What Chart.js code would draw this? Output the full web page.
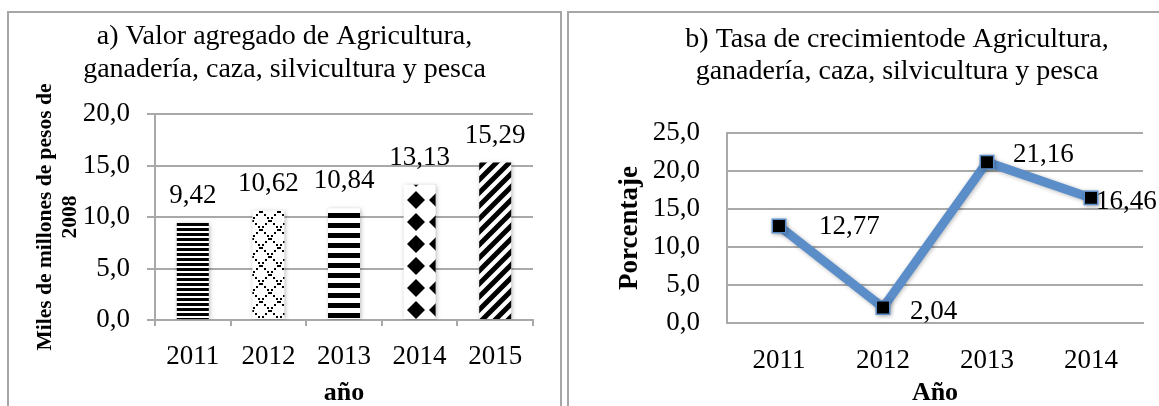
<!DOCTYPE html>
<html>
<head>
<meta charset="utf-8">
<script src="https://cdn.jsdelivr.net/npm/chart.js@4.4.1/dist/chart.umd.min.js"></script>
<style>
  html, body { margin: 0; padding: 0; background: #fff; }
  body { width: 1159px; height: 406px; overflow: hidden; position: relative; }
  .panel { position: absolute; top: 11px; height: 420px; border: 2px solid #a6a6a6; overflow: hidden; background: #fff; }
  #panelA { left: 7px; width: 551px; }
  #panelB { left: 567px; width: 700px; }
  canvas { position: absolute; left: 0; top: 0; }
</style>
</head>
<body>
<div class="panel" id="panelA"><canvas id="chartA" width="551" height="393"></canvas></div>
<div class="panel" id="panelB"><canvas id="chartB" width="656" height="393"></canvas></div>
<script>
// ---- data ----
const years = ["2011", "2012", "2013", "2014", "2015"];
const valorAgregado = [9.42, 10.62, 10.84, 13.13, 15.29];

const yearsTasa = ["2011", "2012", "2013", "2014"];
const tasaCrecimiento = [12.77, 2.04, 21.16, 16.46];

const titleA = ["a) Valor agregado de Agricultura,", "ganadería, caza, silvicultura y pesca"];
const titleB = ["b) Tasa de crecimientode Agricultura,", "ganadería, caza, silvicultura y pesca"];
const yTitleA = ["Miles de millones de pesos de", "2008"];

const gridColor = "#a9a9a9";
const lineBlue = "#5b8ec9";

Chart.defaults.font.family = '"Liberation Serif", "Times New Roman", serif';
Chart.defaults.color = "#000";

const fmt = v => v.toFixed(1).replace(".", ",");
const fmtVal = v => String(v).replace(".", ",");

/* ============================
   BAR PATTERNS (black / white)
============================ */
function makePattern(w, h, draw) {
    const c = document.createElement("canvas");
    c.width = w; c.height = h;
    const g = c.getContext("2d");
    g.fillStyle = "#fff";
    g.fillRect(0, 0, w, h);
    g.fillStyle = "#000";
    g.strokeStyle = "#000";
    draw(g, w, h);
    return g.createPattern(c, "repeat");
}

const patterns = [
    // narrow horizontal
    makePattern(4, 5, g => g.fillRect(0, 0, 4, 3)),
    // dotted lattice
    makePattern(18, 18, g => {
        for (let i = 0; i < 18; i += 3) {
            g.fillRect(i, i, 2, 2);
            g.fillRect(16 - i, i, 2, 2);
        }
    }),
    // wide horizontal
    makePattern(4, 10, g => g.fillRect(0, 0, 4, 5)),
    // solid diamonds
    makePattern(22, 22, g => {
        g.beginPath();
        g.moveTo(11, 2); g.lineTo(20, 11); g.lineTo(11, 20); g.lineTo(2, 11);
        g.closePath();
        g.fill();
    }),
    // wide upward diagonal
    makePattern(13, 13, g => {
        g.lineWidth = 5;
        g.beginPath();
        g.moveTo(-6.5, 6.5); g.lineTo(6.5, -6.5);
        g.moveTo(0, 13); g.lineTo(13, 0);
        g.moveTo(6.5, 19.5); g.lineTo(19.5, 6.5);
        g.stroke();
    })
];

/* ============================
   SHADOW + VALUE LABELS
============================ */
const valueLabels = {
    id: "valueLabels",
    beforeDatasetsDraw(chart) {
        const ctx = chart.ctx;
        ctx.save();
        ctx.shadowColor = "rgba(0,0,0,0.28)";
        ctx.shadowBlur = 4;
        ctx.shadowOffsetX = 1;
        ctx.shadowOffsetY = 1;
    },
    afterDatasetsDraw(chart, args, opts) {
        const ctx = chart.ctx;
        ctx.restore();
        const meta = chart.getDatasetMeta(0);
        const data = chart.data.datasets[0].data;
        ctx.save();
        ctx.font = "27px " + Chart.defaults.font.family;
        ctx.fillStyle = "#000";
        ctx.textAlign = opts.align;
        ctx.textBaseline = "middle";
        meta.data.forEach((el, i) => {
            const off = opts.offsets[i] || [0, 0];
            ctx.fillText(fmtVal(data[i]), el.x + off[0], el.y + off[1]);
        });
        ctx.restore();
    }
};

/* ============================
   a) BAR CHART
============================ */
new Chart(document.getElementById("chartA"), {
    type: "bar",
    data: {
        labels: years,
        datasets: [{
            data: valorAgregado,
            backgroundColor: patterns,
            borderWidth: 0,
            barPercentage: 0.423,
            categoryPercentage: 1
        }]
    },
    options: {
        responsive: false,
        animation: false,
        devicePixelRatio: 1,
        layout: { padding: 0 },
        plugins: {
            legend: { display: false },
            tooltip: { enabled: false },
            title: {
                display: true,
                text: titleA,
                font: { size: 28, weight: "normal", lineHeight: "33px" },
                padding: { top: 7.5, bottom: 27.5 },
                color: "#000"
            },
            valueLabels: {
                align: "center",
                offsets: valorAgregado.map(() => [0, -27])
            }
        },
        scales: {
            x: {
                grid: { drawOnChartArea: false, drawTicks: true, tickLength: 6, color: gridColor, lineWidth: 2, offset: true },
                border: { color: gridColor, width: 2 },
                ticks: { font: { size: 27 }, padding: 15, color: "#000" },
                title: { display: true, text: "año", font: { size: 26, weight: "bold", lineHeight: 1 }, padding: 0, color: "#000" },
                afterFit: s => { s.height = 86; s.paddingRight = 27; }
            },
            y: {
                min: 0, max: 20,
                grid: { color: gridColor, lineWidth: 2, tickLength: 8 },
                border: { color: gridColor, width: 2 },
                ticks: { stepSize: 5, font: { size: 27 }, padding: 17, color: "#000", callback: v => fmt(v) },
                title: { display: true, text: yTitleA, font: { size: 21.5, weight: "bold", lineHeight: "25px" }, padding: { top: 24, bottom: 0 }, color: "#000" },
                afterFit: s => { s.width = 146; }
            }
        }
    },
    plugins: [valueLabels]
});

/* ============================
   b) LINE CHART
============================ */
new Chart(document.getElementById("chartB"), {
    type: "line",
    data: {
        labels: yearsTasa,
        datasets: [{
            data: tasaCrecimiento,
            borderColor: lineBlue,
            borderWidth: 9,
            tension: 0,
            pointStyle: "rect",
            pointRadius: 9.5,
            pointBackgroundColor: "#000",
            pointBorderColor: lineBlue,
            pointBorderWidth: 1.5
        }]
    },
    options: {
        responsive: false,
        animation: false,
        devicePixelRatio: 1,
        layout: { padding: 0 },
        plugins: {
            legend: { display: false },
            tooltip: { enabled: false },
            title: {
                display: true,
                text: titleB,
                font: { size: 28, weight: "normal", lineHeight: "32px" },
                padding: { top: 11, bottom: 45 },
                color: "#000"
            },
            valueLabels: {
                align: "left",
                offsets: [[40, 1], [27, 4], [26, -7], [5, 4]]
            }
        },
        scales: {
            x: {
                offset: true,
                grid: { display: false, drawTicks: false },
                border: { color: gridColor, width: 2 },
                ticks: { font: { size: 27 }, padding: 22, color: "#000" },
                title: { display: true, text: "Año", font: { size: 26, weight: "bold", lineHeight: 1 }, padding: 0, color: "#000" },
                afterFit: s => { s.height = 83; s.paddingRight = 82; }
            },
            y: {
                min: 0, max: 25,
                grid: { color: gridColor, lineWidth: 2, drawTicks: false },
                border: { color: gridColor, width: 2 },
                ticks: { stepSize: 5, font: { size: 27 }, padding: 27, color: "#000", callback: v => fmt(v) },
                title: { display: true, text: "Porcentaje", font: { size: 27, weight: "bold", lineHeight: "32px" }, padding: { top: 45, bottom: 0 }, color: "#000" },
                afterFit: s => { s.width = 158; }
            }
        }
    },
    plugins: [valueLabels]
});
</script>
</body>
</html>
